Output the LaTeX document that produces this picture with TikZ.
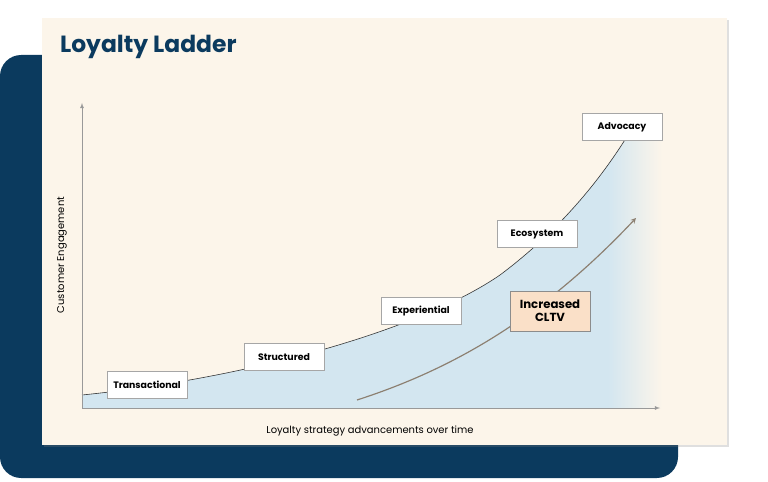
\documentclass[tikz,border=0pt]{standalone}
\usepackage{fontspec}
\setmainfont{Poppins}
\usetikzlibrary{shadows}
\definecolor{navy}{HTML}{0B3A5E}
\definecolor{cream}{HTML}{FCF5EA}
\definecolor{skyfill}{HTML}{D3E6F0}
\definecolor{peach}{HTML}{FAE0C8}
\definecolor{brownish}{HTML}{8C7F70}
\tikzset{
    stage/.style={draw=gray!70, fill=white, minimum width=2.4cm, minimum height=0.82cm, font=\fontsize{8}{9}\selectfont\bfseries, align=center},
    axis/.style={draw=gray!80, -latex, line width=0.5pt}
}
\begin{document}
\begin{tikzpicture}[x=0.03cm, y=-0.03cm]
    \useasboundingbox (0,0) rectangle (768,481);

    \fill[navy, rounded corners=18] (0,55) rectangle (678,478);
    \fill[cream, drop shadow={opacity=0.25, shadow xshift=2pt, shadow yshift=-2pt}] (42,18) rectangle (727,445);
    \node[anchor=west, font=\fontsize{20}{23}\selectfont\bfseries, text=navy] (title) at (56,47) {Loyalty Ladder};

    % area under the curve
    \begin{scope}
        \clip (82,395) .. controls (250,378) and (420,330) .. (500,275) .. controls (560,230) and (600,180) .. (628,135) -- (662,135) -- (662,408) -- (82,408) -- cycle;
        \fill[skyfill] (82,130) rectangle (662,408);
        \shade[left color=skyfill, right color=cream] (608,130) rectangle (662,408);
    \end{scope}
    \draw[black!80, line width=0.5pt] (82,395) .. controls (250,378) and (420,330) .. (500,275) .. controls (560,230) and (600,180) .. (628,135);

    \draw[axis] (82,408) -- (82,103);
    \draw[axis] (82,408) -- (660,408);
    \node[rotate=90, font=\fontsize{8.5}{10}\selectfont] (ylab) at (62,255) {Customer Engagement};
    \node[font=\fontsize{8.5}{10}\selectfont] (xlab) at (370,431) {Loyalty strategy advancements over time};

    \draw[brownish, line width=1pt, -stealth] (357,400) .. controls (450,370) and (540,320) .. (636,218);

    \node[stage] (trans) at (147,385) {Transactional};
    \node[stage] (struct) at (284,357) {Structured};
    \node[stage] (exper) at (421,311) {Experiential};
    \node[stage] (eco) at (537,234) {Ecosystem};
    \node[stage] (advo) at (622,127) {Advocacy};
    \node[stage, fill=peach, draw=gray!90, minimum height=1.2cm, font=\fontsize{10}{11}\selectfont\bfseries] (cltv) at (550,311) {Increased\\CLTV};
\end{tikzpicture}
\end{document}
